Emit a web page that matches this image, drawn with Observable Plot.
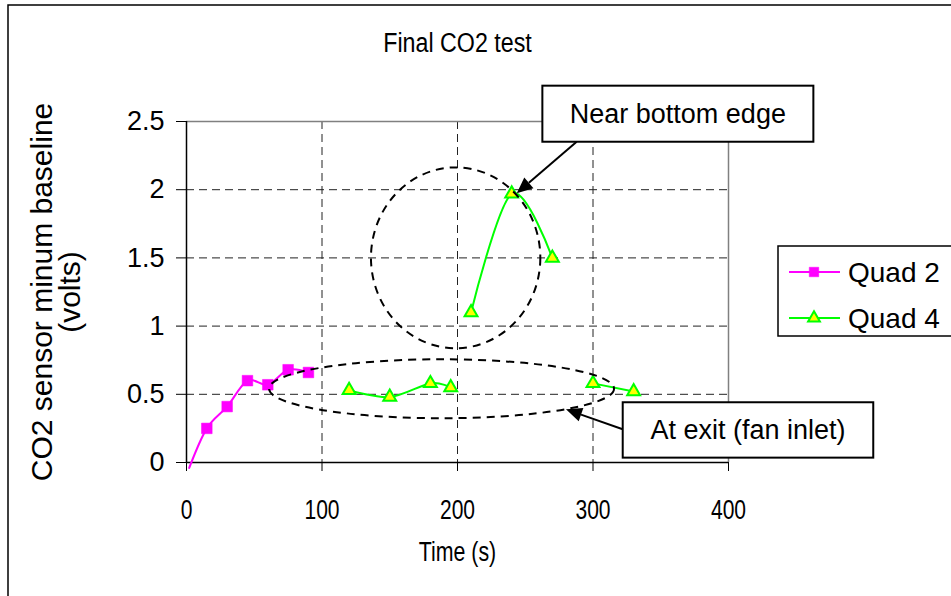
<!DOCTYPE html>
<html>
<head>
<meta charset="utf-8">
<script src="https://cdn.jsdelivr.net/npm/d3@7"></script>
<script src="https://cdn.jsdelivr.net/npm/@observablehq/plot@0.6"></script>
<style>
  html, body { margin: 0; padding: 0; background: #fff; }
  #chart { width: 951px; height: 596px; overflow: hidden; }
  svg { font-family: "Liberation Sans", Arial, sans-serif; }
</style>
</head>
<body>
<div id="chart"></div>
<script>
// ---- data ----
const title = "Final CO2 test";
const xLabel = "Time (s)";
const yLabel = "CO2 sensor minum baseline\n(volts)";
const xTicks = [0, 100, 200, 300, 400];
const yTicks = [0, 0.5, 1, 1.5, 2, 2.5];
const yTickLabels = ["0", "0.5", "1", "1.5", "2", "2.5"];

const quad2Time  = [2, 15, 30, 45, 60, 75, 90];
const quad2Volts = [-0.04, 0.25, 0.41, 0.6, 0.57, 0.68, 0.66];

const quad4Time    = [120, 150, 180, 195, 210, 240, 270, 300, 330];
const quad4Volts   = [0.53, 0.48, 0.58, 0.55, 1.1, 1.97, 1.5, 0.58, 0.52];
const quad4Segment = [1, 1, 1, 1, 2, 2, 2, 3, 3];

const seriesNames = ["Quad 2", "Quad 4"];

// annotation shapes (data units)
const ellipses = [
  {cx: 199, cy: 1.497, rx: 62.5, ry: 0.663},
  {cx: 188.6, cy: 0.537, rx: 127.3, ry: 0.216}
];
const callouts = [
  {label: "Near bottom edge", x1: 263, x2: 463, y1: 2.348, y2: 2.759, fromX: 288.3, fromY: 2.348, toX: 244.1, toY: 1.97},
  {label: "At exit (fan inlet)", x1: 322.3, x2: 507.2, y1: 0.032, y2: 0.438, fromX: 322.3, fromY: 0.24, toX: 280.4, toY: 0.386}
];

// ---- tables ----
const quad2 = quad2Time.map((t, i) => ({t, v: quad2Volts[i]}));
const quad4 = quad4Time.map((t, i) => ({t, v: quad4Volts[i], seg: quad4Segment[i]}));

const Q2 = "#ff00ff", Q4 = "#00ff00", Q4FILL = "#ffff00";

const chart = Plot.plot({
  width: 951,
  height: 596,
  marginLeft: 186,
  marginRight: 223,
  marginTop: 121,
  marginBottom: 134,
  style: {fontFamily: "Liberation Sans, Arial, sans-serif", background: "#fff", overflow: "visible"},
  x: {domain: [0, 400]},
  y: {domain: [0, 2.5]},
  marks: [
    // gridlines
    Plot.ruleX(xTicks.filter(d => d > 0 && d < 400), {stroke: "#222", strokeWidth: 1, strokeDasharray: "8,5"}),
    Plot.ruleY(yTicks.filter(d => d > 0 && d < 2.5), {stroke: "#222", strokeWidth: 1, strokeDasharray: "8,5"}),
    // plot area border (top & right)
    Plot.ruleY([2.5], {stroke: "#808080", strokeWidth: 1.5}),
    Plot.ruleX([400], {stroke: "#808080", strokeWidth: 1.5}),
    // axes
    Plot.axisX({ticks: xTicks, tickSize: 9, tickPadding: 28, fontSize: 27, label: null, stroke: "#000", fill: "#000"}),
    Plot.axisY({ticks: yTicks, tickFormat: d => yTickLabels[yTicks.indexOf(d)], tickSize: 10, tickPadding: 12, fontSize: 27, label: null, stroke: "#000", fill: "#000"}),
    Plot.ruleX([0], {stroke: "#000", strokeWidth: 1.5, y1: 0, y2: 2.5}),
    Plot.ruleY([0], {stroke: "#000", strokeWidth: 1.5}),
    // axis titles & title
    Plot.text([xLabel], {frameAnchor: "bottom", dy: 90, lineAnchor: "middle", fontSize: 27, fill: "#000"}),
    Plot.text([yLabel], {frameAnchor: "left", dx: -129, rotate: -90, textAnchor: "middle", lineAnchor: "middle", fontSize: 30, lineHeight: 0.93, fill: "#000"}),
    Plot.text([title], {frameAnchor: "top", dy: -78, lineAnchor: "middle", fontSize: 28, fill: "#000"}),
    // series
    Plot.line(quad2, {x: "t", y: "v", stroke: Q2, strokeWidth: 2, curve: "cardinal", tension: 0}),
    Plot.dot(quad2.filter(d => d.v >= 0), {x: "t", y: "v", symbol: "square", r: 6, fill: Q2, stroke: Q2, strokeWidth: 0.5}),
    Plot.line(quad4, {x: "t", y: "v", z: "seg", stroke: Q4, strokeWidth: 2, curve: "cardinal", tension: 0}),
    Plot.dot(quad4, {x: "t", y: "v", symbol: "triangle", r: 4.8, fill: Q4FILL, stroke: Q4, strokeWidth: 2})
  ]
});

document.getElementById("chart").appendChild(chart);

const svg = d3.select(chart);

// horizontally condensed text (as in the reference rendering)
function condense(sel, k) {
  sel.each(function () {
    const t = this.getAttribute("transform");
    if (t) {
      this.setAttribute("transform", `${t} scale(${k},1)`);
    } else {
      const x = +this.getAttribute("x") || 0, y = +this.getAttribute("y") || 0;
      this.setAttribute("x", 0); this.setAttribute("y", 0);
      this.setAttribute("transform", `translate(${x},${y}) scale(${k},1)`);
    }
  });
}
const byText = s => svg.selectAll("text").filter(function () { return this.textContent === s; });
condense(svg.selectAll('g[aria-label="x-axis tick label"] text'), 0.78);
condense(byText(xLabel), 0.79);
condense(byText(title), 0.83);

// ---- decorations drawn through the plot's scales ----
const sx = chart.scale("x"), sy = chart.scale("y");
const X = v => sx.apply(v), Y = v => sy.apply(v);

// outer chart frame
svg.insert("rect", ":first-child")
  .attr("x", 8).attr("y", 5).attr("width", 960).attr("height", 600)
  .attr("fill", "none").attr("stroke", "#000").attr("stroke-width", 1.5);

const deco = svg.append("g");

// dashed ellipses
for (const e of ellipses) {
  deco.append("ellipse")
    .attr("cx", X(e.cx)).attr("cy", Y(e.cy))
    .attr("rx", X(e.cx + e.rx) - X(e.cx)).attr("ry", Y(e.cy) - Y(e.cy + e.ry))
    .attr("fill", "none").attr("stroke", "#000").attr("stroke-width", 2).attr("stroke-dasharray", "8,6");
}

// callouts
for (const c of callouts) {
  const x0 = X(c.fromX), y0 = Y(c.fromY), x1 = X(c.toX), y1 = Y(c.toY);
  const dx = x1 - x0, dy = y1 - y0, L = Math.hypot(dx, dy);
  const ux = dx / L, uy = dy / L, hl = 16, hw = 7;
  const bx = x1 - ux * hl, by = y1 - uy * hl;
  deco.append("line").attr("x1", x0).attr("y1", y0).attr("x2", bx).attr("y2", by)
    .attr("stroke", "#000").attr("stroke-width", 2);
  deco.append("polygon")
    .attr("points", [[x1, y1], [bx - uy * hw, by + ux * hw], [bx + uy * hw, by - ux * hw]].map(p => p.join(",")).join(" "))
    .attr("fill", "#000");
  deco.append("rect")
    .attr("x", X(c.x1)).attr("y", Y(c.y2))
    .attr("width", X(c.x2) - X(c.x1)).attr("height", Y(c.y1) - Y(c.y2))
    .attr("fill", "#fff").attr("stroke", "#000").attr("stroke-width", 2);
  deco.append("text")
    .attr("x", (X(c.x1) + X(c.x2)) / 2).attr("y", (Y(c.y1) + Y(c.y2)) / 2)
    .attr("text-anchor", "middle").attr("dominant-baseline", "central")
    .attr("font-size", 27).attr("fill", "#000").text(c.label);
}

// legend
const lg = svg.append("g");
const lx = 951 - 223 + 50, ly = 246;
lg.append("rect").attr("x", lx).attr("y", ly).attr("width", 200).attr("height", 90)
  .attr("fill", "#fff").attr("stroke", "#000").attr("stroke-width", 1.5);
const legendItems = [
  {name: seriesNames[0], stroke: Q2, fill: Q2, symbol: d3.symbolSquare, size: 90, sw: 0.5},
  {name: seriesNames[1], stroke: Q4, fill: Q4FILL, symbol: d3.symbolTriangle, size: 60, sw: 2}
];
legendItems.forEach((it, i) => {
  const yy = ly + 26 + i * 46;
  lg.append("line").attr("x1", lx + 11).attr("x2", lx + 62).attr("y1", yy).attr("y2", yy)
    .attr("stroke", it.stroke).attr("stroke-width", 2);
  lg.append("path").attr("d", d3.symbol(it.symbol, it.size)())
    .attr("transform", `translate(${lx + 36},${yy})`)
    .attr("fill", it.fill).attr("stroke", it.stroke).attr("stroke-width", it.sw);
  lg.append("text").attr("x", lx + 70).attr("y", yy).attr("dominant-baseline", "central")
    .attr("text-anchor", "start")
    .attr("font-size", 28).attr("fill", "#000").text(it.name);
});
</script>
</body>
</html>
